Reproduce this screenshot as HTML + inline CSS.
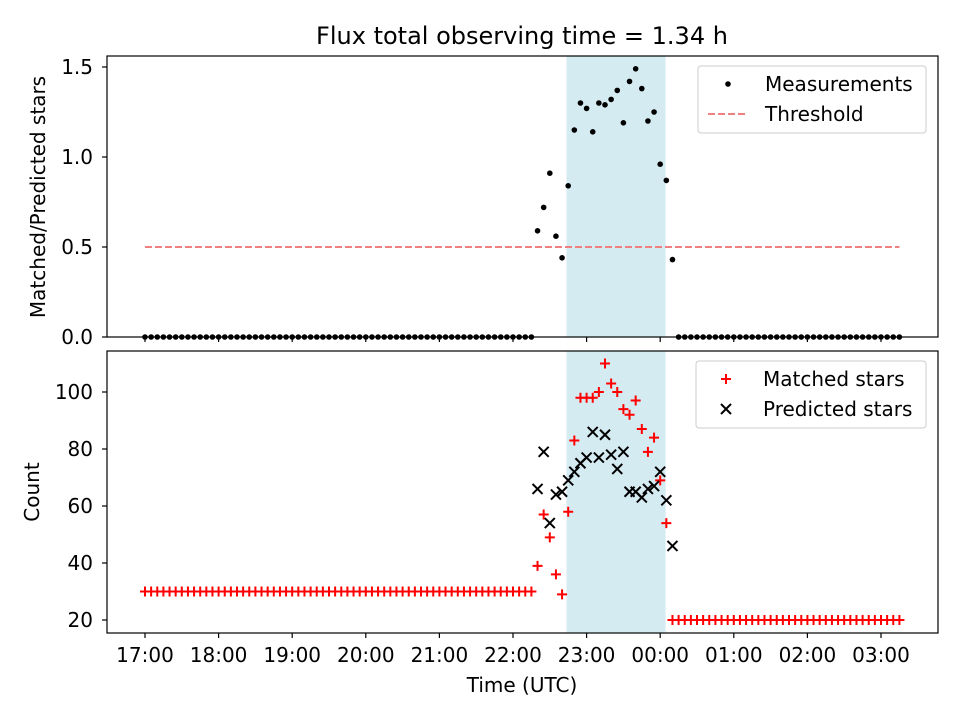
<!DOCTYPE html>
<html><head><meta charset="utf-8"><style>
body{margin:0;background:#fff;}
svg{display:block;font-family:"DejaVu Sans","Liberation Sans",sans-serif;}
</style></head><body>
<svg id="chart" width="960" height="720"></svg>
<script>
// minutes since 17:00 UTC
const times = [0,5,10,15,20,25,30,35,40,45,50,55,60,65,70,75,80,85,90,95,100,105,110,115,120,125,130,135,140,145,150,155,160,165,170,175,180,185,190,195,200,205,210,215,220,225,230,235,240,245,250,255,260,265,270,275,280,285,290,295,300,305,310,315,
320,325,330,335,340,345,350,355,360,365,370,375,380,385,390,395,400,405,410,415,420,425,430,
435,440,445,450,455,460,465,470,475,480,485,490,495,500,505,510,515,520,525,530,535,540,545,550,555,560,565,570,575,580,585,590,595,600,605,610,615];
const measurements = [0,0,0,0,0,0,0,0,0,0,0,0,0,0,0,0,0,0,0,0,0,0,0,0,0,0,0,0,0,0,0,0,0,0,0,0,0,0,0,0,0,0,0,0,0,0,0,0,0,0,0,0,0,0,0,0,0,0,0,0,0,0,0,0,
0.59,0.72,0.91,0.56,0.44,0.84,1.15,1.30,1.27,1.14,1.30,1.29,1.32,1.37,1.19,1.42,1.49,1.38,1.20,1.25,0.96,0.87,0.43,
0,0,0,0,0,0,0,0,0,0,0,0,0,0,0,0,0,0,0,0,0,0,0,0,0,0,0,0,0,0,0,0,0,0,0,0,0];
const matched = [30,30,30,30,30,30,30,30,30,30,30,30,30,30,30,30,30,30,30,30,30,30,30,30,30,30,30,30,30,30,30,30,30,30,30,30,30,30,30,30,30,30,30,30,30,30,30,30,30,30,30,30,30,30,30,30,30,30,30,30,30,30,30,30,
39,57,49,36,29,58,83,98,98,98,100,110,103,100,94,92,97,87,79,84,69,54,20,
20,20,20,20,20,20,20,20,20,20,20,20,20,20,20,20,20,20,20,20,20,20,20,20,20,20,20,20,20,20,20,20,20,20,20,20,20];
const predictedTimes = [320,325,330,335,340,345,350,355,360,365,370,375,380,385,390,395,400,405,410,415,420,425,430];
const predicted = [66,79,54,64,65,69,72,75,77,86,77,85,78,73,79,65,65,63,66,67,72,62,46];
const threshold = 0.5;
const shadeRange = [344,424];
const xTickLabels = ["17:00","18:00","19:00","20:00","21:00","22:00","23:00","00:00","01:00","02:00","03:00"];
const topTicks = [0,0.5,1.0,1.5];
const topTickLabels = ["0.0","0.5","1.0","1.5"];
const botTicks = [20,40,60,80,100];

const NS="http://www.w3.org/2000/svg";
const svg=document.getElementById('chart');
function mk(t,a,p){const e=document.createElementNS(NS,t);for(const k in a)e.setAttribute(k,a[k]);(p||svg).appendChild(e);return e;}
const L=107,R=938,T1=56,B1=337,T2=351,B2=633;
const xs=m=>145+m*(736/600);
const y1=v=>337-v*180;
const y2=v=>620-(v-20)*2.85;

let s=mk('rect',{x:xs(shadeRange[0]),y:T1,width:xs(shadeRange[1])-xs(shadeRange[0]),height:B1-T1,fill:'#add8e6',opacity:0.5,stroke:'#add8e6'});

s=mk('rect',{x:xs(shadeRange[0]),y:T2,width:xs(shadeRange[1])-xs(shadeRange[0]),height:B2-T2,fill:'#add8e6',opacity:0.5,stroke:'#add8e6'});


let th=mk('line',{x1:xs(times[0]),x2:xs(times[times.length-1]),y1:y1(threshold),y2:y1(threshold),stroke:'#f08080','stroke-width':2,'stroke-dasharray':'7,3'});


measurements.forEach((v,i)=>{const c=mk('circle',{cx:xs(times[i]),cy:y1(v),r:2.8,fill:'#000'});
});

matched.forEach((v,i)=>{const x=xs(times[i]),y=y2(v);
const g=mk('path',{d:`M${x-5},${y}H${x+5}M${x},${y-5}V${y+5}`,stroke:'#f00','stroke-width':2,fill:'none'});
});
predicted.forEach((v,i)=>{const x=xs(predictedTimes[i]),y=y2(v);
const g=mk('path',{d:`M${x-5},${y-5}L${x+5},${y+5}M${x-5},${y+5}L${x+5},${y-5}`,stroke:'#000','stroke-width':2,fill:'none'});
});

let f=mk('rect',{x:L,y:T1,width:R-L,height:B1-T1,fill:'none',stroke:'#000','stroke-width':1.2});

f=mk('rect',{x:L,y:T2,width:R-L,height:B2-T2,fill:'none',stroke:'#000','stroke-width':1.2});


xTickLabels.forEach((lab,i)=>{const x=xs(i*60);
mk('line',{x1:x,x2:x,y1:B1,y2:B1+5,stroke:'#000','stroke-width':1.2});
mk('line',{x1:x,x2:x,y1:B2,y2:B2+5,stroke:'#000','stroke-width':1.2});
const t=mk('text',{x:x,y:B2+29,'text-anchor':'middle','font-size':20});t.textContent=lab;
});
topTicks.forEach((v,i)=>{const y=y1(v);mk('line',{x1:L-5,x2:L,y1:y,y2:y,stroke:'#000','stroke-width':1.2});
const t=mk('text',{x:L-14,y:y+7,'text-anchor':'end','font-size':20});t.textContent=topTickLabels[i];
});
botTicks.forEach(v=>{const y=y2(v);mk('line',{x1:L-5,x2:L,y1:y,y2:y,stroke:'#000','stroke-width':1.2});
const t=mk('text',{x:L-14,y:y+7,'text-anchor':'end','font-size':20});t.textContent=v;
});
</script>
<svg width="960" height="720" style="position:absolute;left:0;top:0;font-family:'DejaVu Sans','Liberation Sans',sans-serif">
<text x="522" y="44" text-anchor="middle" font-size="24">Flux total observing time = 1.34 h</text>
<text transform="translate(45,197) rotate(-90)" text-anchor="middle" font-size="20">Matched/Predicted stars</text>
<text transform="translate(39,492) rotate(-90)" text-anchor="middle" font-size="20">Count</text>
<text x="522" y="692" text-anchor="middle" font-size="20">Time (UTC)</text>
<g font-size="20">
<rect x="698" y="66" width="228" height="67" rx="3" fill="#fff" fill-opacity="0.8" stroke="#ccc"/>
<circle cx="728" cy="84" r="2.8" fill="#000"/>
<text x="765" y="91">Measurements</text>
<line x1="708" x2="748" y1="114" y2="114" stroke="#f08080" stroke-width="2" stroke-dasharray="7,3"/>
<text x="765" y="121">Threshold</text>
</g>
<g font-size="20">
<rect x="696" y="361" width="230" height="67" rx="3" fill="#fff" fill-opacity="0.8" stroke="#ccc"/>
<path d="M721,379H731M726,374V384" stroke="#f00" stroke-width="2"/>
<text x="763" y="386">Matched stars</text>
<path d="M721,404L731,414M721,414L731,404" stroke="#000" stroke-width="2"/>
<text x="763" y="416">Predicted stars</text>
</g>
</svg>
</body></html>
